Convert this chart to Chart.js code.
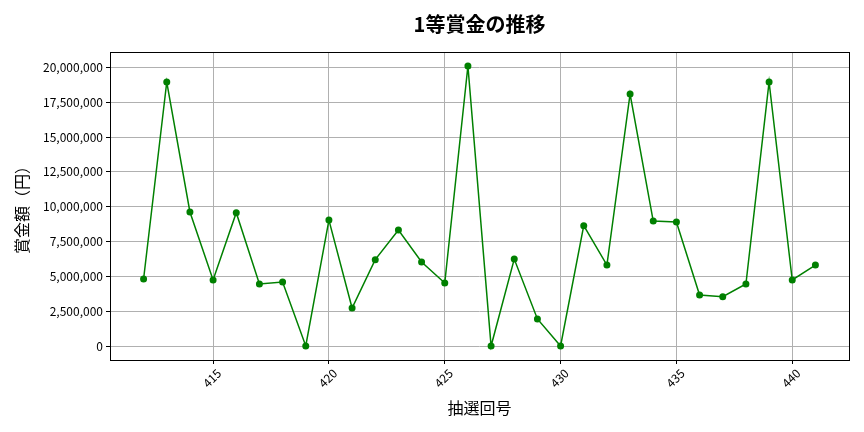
<!DOCTYPE html>
<html>
<head>
<meta charset="utf-8">
<script src="https://cdn.jsdelivr.net/npm/chart.js@4"></script>
<style>
  html, body { margin: 0; padding: 0; background: #fff; }
  #wrap { width: 864px; height: 432px; }
</style>
</head>
<body>
<div id="wrap"><canvas id="myChart"></canvas></div>
<script>
// 抽選回号 and 1等賞金
const rounds = [412, 413, 414, 415, 416, 417, 418, 419, 420, 421,
                422, 423, 424, 425, 426, 427, 428, 429, 430, 431,
                432, 433, 434, 435, 436, 437, 438, 439, 440, 441];
const prizes = [4810000, 18950000, 9620000, 4740000, 9570000, 4450000, 4590000, 0, 9040000, 2730000,
                6200000, 8330000, 6030000, 4520000, 20100000, 0, 6240000, 1940000, 0, 8640000,
                5810000, 18090000, 8970000, 8900000, 3660000, 3540000, 4450000, 18950000, 4740000, 5810000];
const xTicks = [415, 420, 425, 430, 435, 440];
const yTicks = [0, 2500000, 5000000, 7500000, 10000000, 12500000, 15000000, 17500000, 20000000];
const chartTitle = '1等賞金の推移';

const font = "'Noto Sans CJK JP', 'Noto Sans', sans-serif";
Chart.defaults.font.family = font;
Chart.defaults.color = "#000000";

// matplotlib-like 5% margins
const xMin = Math.min(...rounds), xMax = Math.max(...rounds);
const yMin = Math.min(...prizes), yMax = Math.max(...prizes);
const xPad = (xMax - xMin) * 0.05, yPad = (yMax - yMin) * 0.05;

// axes frame + title centred over the plot area
const frame = {
  id: 'frame',
  afterDraw(chart) {
    const a = chart.chartArea, c = chart.ctx;
    c.save();
    c.strokeStyle = '#000';
    c.lineWidth = 1;
    c.strokeRect(Math.round(a.left) + 0.5, Math.round(a.top) + 0.5,
                 Math.round(a.right - a.left), Math.round(a.bottom - a.top));
    c.fillStyle = '#000';
    c.font = 'bold 20px ' + font;
    c.textAlign = 'center';
    c.textBaseline = 'middle';
    c.fillText(chartTitle, (a.left + a.right) / 2, 24);
    c.restore();
  }
};

var ctx = document.getElementById('myChart');
var myChart = new Chart(ctx, {
  type: 'line',
  data: {
    datasets: [{
      data: rounds.map((r, i) => ({x: r, y: prizes[i]})),
      borderColor: 'green',
      backgroundColor: 'green',
      borderWidth: 1.5,
      pointRadius: 3.5,
      pointBorderWidth: 0,
      tension: 0
    }]
  },
  options: {
    responsive: true,
    maintainAspectRatio: false,
    animation: false,
    layout: { padding: { left: 0, right: 15, top: 52, bottom: 0 } },
    plugins: {
      legend: { display: false },
      tooltip: { enabled: false },
      title: { display: false }
    },
    scales: {
      x: {
        type: 'linear',
        min: xMin - xPad,
        max: xMax + xPad,
        afterBuildTicks: s => { s.ticks = xTicks.map(v => ({value: v})); },
        afterFit: s => { s.height = 72; },
        grid: { color: '#b0b0b0', tickColor: '#000', tickLength: 4 },
        border: { display: false },
        ticks: { minRotation: 45, maxRotation: 45, labelOffset: 6, padding: 2, font: { size: 12 } },
        title: { display: true, text: '抽選回号', font: { size: 16 }, padding: { top: 14, bottom: 14 } }
      },
      y: {
        min: yMin - yPad,
        max: yMax + yPad,
        afterBuildTicks: s => { s.ticks = yTicks.map(v => ({value: v})); },
        afterFit: s => { s.width = 110; },
        grid: { color: '#b0b0b0', tickColor: '#000', tickLength: 4 },
        border: { display: false },
        ticks: { padding: 3, font: { size: 12 }, callback: v => v.toLocaleString('en-US') },
        title: { display: true, text: '賞金額（円）', font: { size: 16 }, padding: { top: 12 } }
      }
    }
  },
  plugins: [frame]
});
</script>
</body>
</html>
